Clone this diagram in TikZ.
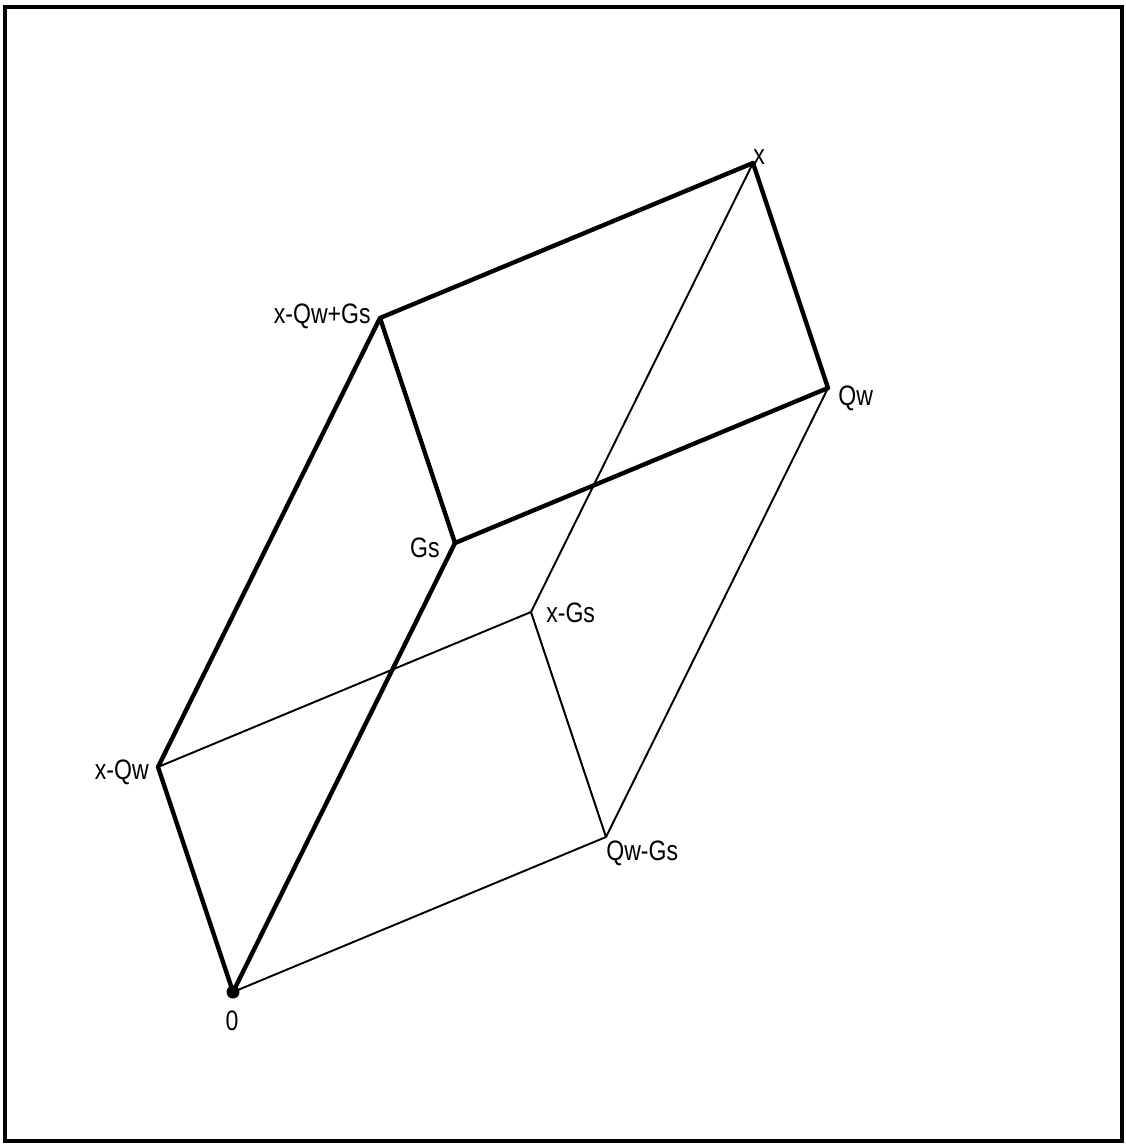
\documentclass[tikz,border=0pt]{standalone}
\usepackage{fontspec}
\setmainfont[FakeStretch=0.82]{Liberation Sans}
\begin{document}
\begin{tikzpicture}[x=0.2mm, y=-0.2mm,
    edge/.style={line width=1.1pt, line join=round},
    bold/.style={line width=2.5pt, line join=round, line cap=round},
    lbl/.style={inner sep=0pt, font=\fontsize{16}{16}\selectfont}]
    \useasboundingbox (0, 0) rectangle (1126, 1144);
    \draw[line width=2.3pt] (5, 7) rectangle (1122, 1141);
    % corners of the box
    \coordinate (o) at (233, 992);
    \coordinate (qw) at (828, 388);
    \coordinate (gs) at (455, 543);
    \coordinate (xqw) at (158, 767);
    \coordinate (x) at (753, 163);
    \coordinate (xqwgs) at (380, 318);
    \coordinate (qwgs) at (606, 837);
    \coordinate (xgs) at (531, 612);
    \fill (o) circle (6.5);
    \node[lbl, anchor=north] (lo) at (232, 1011) {0};
    \node[lbl, anchor=west] (lqw) at (838, 398) {Qw};
    \node[lbl, anchor=east] (lgs) at (440, 548) {Gs};
    \node[lbl, anchor=east] (lxqw) at (149, 772) {x-Qw};
    \node[lbl, anchor=west] (lx) at (753, 157) {x};
    \node[lbl, anchor=east] (lxqwgs) at (371, 316) {x-Qw+Gs};
    \node[lbl, anchor=west] (lqwgs) at (606, 853) {Qw-Gs};
    \node[lbl, anchor=west] (lxgs) at (546, 613) {x-Gs};
    \draw[edge] (o) -- (qwgs) -- (xgs) -- (xqw);
    \draw[edge] (xgs) -- (x);
    \draw[edge] (qwgs) -- (qw);
    \draw[bold] (o) -- (xqw) -- (xqwgs) -- (x) -- (qw) -- (gs) -- (xqwgs);
    \draw[bold] (o) -- (gs);
\end{tikzpicture}
\end{document}
